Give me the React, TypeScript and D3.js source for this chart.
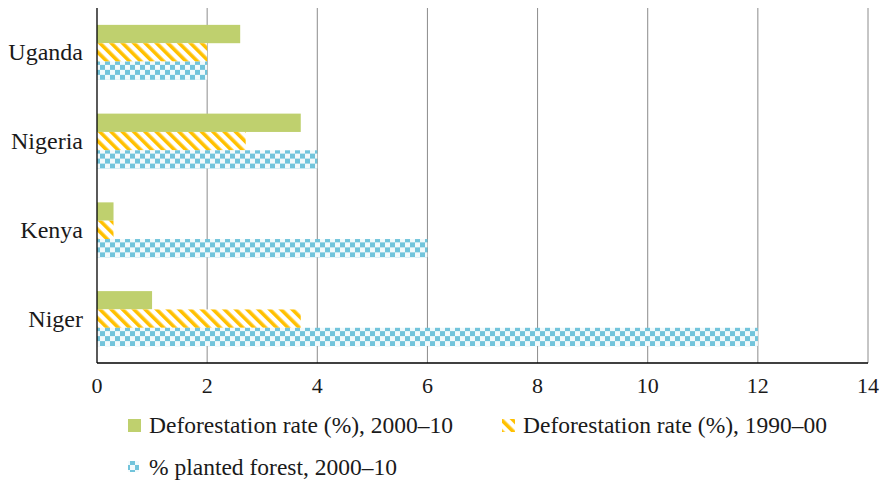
import React, { useEffect, useRef } from "react";
import * as d3 from "d3";

const categories = ["Uganda", "Nigeria", "Kenya", "Niger"];
const seriesNames = [
  "Deforestation rate (%), 2000–10",
  "Deforestation rate (%), 1990–00",
  "% planted forest, 2000–10",
];
const defor2000 = [2.6, 3.7, 0.3, 1.0];
const defor1990 = [2.0, 2.7, 0.3, 3.7];
const planted = [2.0, 4.0, 6.0, 12.0];
const xTicks = [0, 2, 4, 6, 8, 10, 12, 14];

const W = 890;
const H = 485;
const M = { left: 97, right: 22, top: 8, bottom: 122 };
const FONT = "Liberation Serif";

export default function App() {
  const ref = useRef<SVGSVGElement>(null);
  const x = d3.scaleLinear().domain([0, 14]).range([M.left, W - M.right]);
  const y0 = d3
    .scaleBand<string>()
    .domain(categories)
    .range([M.top, H - M.bottom])
    .paddingInner(0.38)
    .paddingOuter(0.19);
  const seriesKeys = ["a", "b", "c"];
  const y1 = d3.scaleBand<string>().domain(seriesKeys).range([0, y0.bandwidth()]);
  const seriesData = [defor2000, defor1990, planted];
  const fills = ["#BFD06E", "url(#stripes)", "url(#checks)"];
  const plotBottom = H - M.bottom;

  useEffect(() => {
    if (!ref.current) return;
    d3.select(ref.current)
      .selectAll("text")
      .style("font-family", '"Liberation Serif", "Times New Roman", Times, serif', "important");
  }, []);

  return (
    <div style={{ position: "absolute", left: 0, top: 0 }}>
      <svg ref={ref} width={W} height={H} style={{ display: "block", background: "#fff" }}>
        <defs>
          <pattern id="stripes" patternUnits="userSpaceOnUse" width={8} height={8} patternTransform="rotate(-45)">
            <rect width={8} height={8} fill="#fff" />
            <rect width={3.6} height={8} fill="#FFC000" />
          </pattern>
          <pattern id="checks" patternUnits="userSpaceOnUse" width={10} height={10}>
            <rect width={10} height={10} fill="#F2FAFC" />
            <rect x={0} y={0} width={5} height={5} fill="#72C4DB" />
            <rect x={5} y={5} width={5} height={5} fill="#72C4DB" />
          </pattern>
        </defs>
        {xTicks.map((t) =>
          t === 0 ? null : (
            <line key={"g" + t} x1={x(t)} x2={x(t)} y1={M.top} y2={plotBottom} stroke="#8c8c8c" strokeWidth={1} />
          )
        )}
        {categories.map((c, i) => (
          <g key={c} transform={`translate(0,${y0(c)})`}>
            {seriesData.map((s, k) => (
              <rect
                key={k}
                x={x(0)}
                y={y1(seriesKeys[k])}
                width={x(s[i]) - x(0)}
                height={y1.bandwidth()}
                fill={fills[k]}
              />
            ))}
          </g>
        ))}
        <line x1={x(0)} x2={x(0)} y1={M.top} y2={plotBottom} stroke="#000" strokeWidth={1.3} />
        <line x1={x(0)} x2={x(14)} y1={plotBottom} y2={plotBottom} stroke="#000" strokeWidth={1.3} />
        <g fill="#1a1a1a" fontFamily={FONT}>
          {xTicks.map((t) => (
            <text key={"t" + t} x={x(t)} y={393} textAnchor="middle" fontSize={22}>
              {t}
            </text>
          ))}
          {categories.map((c) => (
            <text
              key={"l" + c}
              x={83}
              y={(y0(c) as number) + y0.bandwidth() / 2 + 8}
              textAnchor="end"
              fontSize={24}
            >
              {c}
            </text>
          ))}
          <rect x={128} y={419} width={13} height={13} fill="#BFD06E" />
          <text x={149} y={433} fontSize={23.5}>{seriesNames[0]}</text>
          <rect x={502} y={419} width={13} height={13} fill="url(#stripes)" />
          <text x={523} y={433} fontSize={23.5}>{seriesNames[1]}</text>
          <rect x={128} y={461} width={11} height={11} fill="url(#checks)" />
          <text x={149} y={475} fontSize={23.5}>{seriesNames[2]}</text>
        </g>
      </svg>
    </div>
  );
}
